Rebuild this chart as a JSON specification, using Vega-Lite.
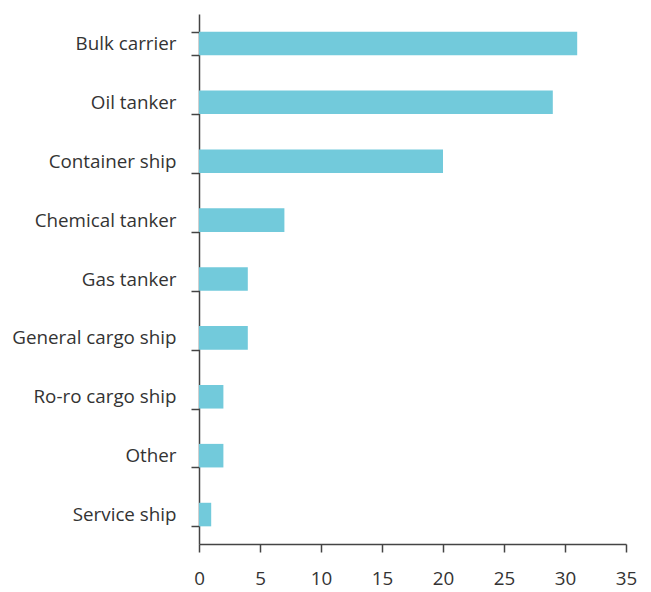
{
  "$schema": "https://vega.github.io/schema/vega-lite/v6.json",
  "width": 427,
  "height": 530,
  "autosize": "none",
  "padding": {"left": 199, "top": 14, "right": 25, "bottom": 48},
  "background": "white",
  "config": {
    "view": {"stroke": null},
    "font": "Open Sans",
    "axis": {"labelFont": "Open Sans", "labelFontSize": 18.8, "labelColor": "#333333", "domainColor": "#444444", "tickColor": "#444444", "domainWidth": 1.5, "tickWidth": 1.5, "tickSize": 8, "grid": false, "title": null}
  },
  "data": {"values": [
    {"type": "Bulk carrier", "value": 31},
    {"type": "Oil tanker", "value": 29},
    {"type": "Container ship", "value": 20},
    {"type": "Chemical tanker", "value": 7},
    {"type": "Gas tanker", "value": 4},
    {"type": "General cargo ship", "value": 4},
    {"type": "Ro-ro cargo ship", "value": 2},
    {"type": "Other", "value": 2},
    {"type": "Service ship", "value": 1}
  ]},
  "mark": {"type": "bar", "color": "#72CADB"},
  "encoding": {
    "y": {"field": "type", "type": "nominal", "sort": null,
      "scale": {"paddingInner": 0.6, "paddingOuter": 0.3},
      "axis": {"tickBand": "extent", "labelPadding": 15}},
    "x": {"field": "value", "type": "quantitative",
      "scale": {"domain": [0, 35], "nice": false},
      "axis": {"values": [0, 5, 10, 15, 20, 25, 30, 35], "labelPadding": 17, "labelFlush": false}}
  }
}
